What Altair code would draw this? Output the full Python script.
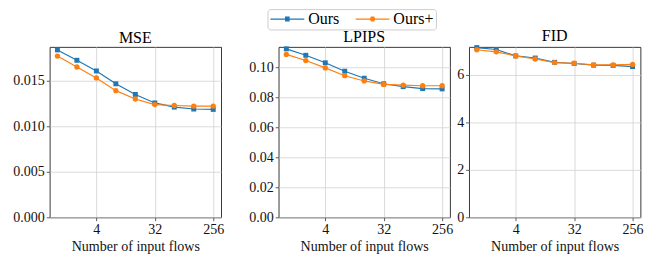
import altair as alt
import pandas as pd

# ---------------- data ----------------
flows = [1, 2, 4, 8, 16, 32, 64, 128, 256]
series_names = ["Ours", "Ours+"]
series_colors = ["#1f77b4", "#ff7f0e"]

mse_ours = [0.01837, 0.01723, 0.01606, 0.01465, 0.01348, 0.01255, 0.01209, 0.01188, 0.01184]
mse_plus = [0.01769, 0.01649, 0.01529, 0.01390, 0.01298, 0.01237, 0.01227, 0.01220, 0.01220]
lpips_ours = [0.1123, 0.1080, 0.1030, 0.0974, 0.0927, 0.0890, 0.0871, 0.0858, 0.0856]
lpips_plus = [0.1086, 0.1045, 0.0996, 0.0944, 0.0909, 0.0886, 0.0881, 0.0877, 0.0877]
fid_ours = [7.15, 7.07, 6.80, 6.71, 6.53, 6.48, 6.41, 6.40, 6.35]
fid_plus = [7.06, 6.97, 6.80, 6.67, 6.52, 6.49, 6.42, 6.42, 6.44]

x_ticks = [4, 32, 256]
mse_ticks = [0.0, 0.005, 0.010, 0.015]
lpips_ticks = [0.0, 0.02, 0.04, 0.06, 0.08, 0.10]
fid_ticks = [0, 2, 4, 6]

FONT = "Liberation Serif"
W, H = 177, 176

# legend handles: line with a marker in the middle (marker drawn by stacked strokes)
SQ_PATH = ("M-1,0H1"
           "M-0.137,-0.114H0.137M-0.137,-0.057H0.137M-0.137,0H0.137"
           "M-0.137,0.057H0.137M-0.137,0.114H0.137")
CI_PATH = ("M-1,0H1"
           "M-0.103,-0.114H0.103M-0.143,-0.057H0.143M-0.157,0H0.157"
           "M-0.143,0.057H0.143M-0.103,0.114H0.103")

legend = alt.Legend(
    title=None,
    orient="none",
    legendX=225,
    legendY=-39,
    direction="horizontal",
    labelFont=FONT,
    labelFontSize=16.5,
    labelColor="#000000",
    labelOffset=3,
    symbolSize=1225,
    symbolStrokeWidth=1.2,
    symbolOpacity=1,
    clipHeight=16,
    columnPadding=15,
    padding=2,
    strokeColor="#cccccc",
    fillColor="white",
    cornerRadius=3,
)


def panel(title, ours, plus, ymax, yticks, fmt):
    df = pd.DataFrame({
        "flows": flows * 2,
        "value": list(ours) + list(plus),
        "series": [series_names[0]] * len(flows) + [series_names[1]] * len(flows),
    })
    x = alt.X(
        "flows:Q",
        scale=alt.Scale(type="log", base=2, domain=[2 ** -0.4, 2 ** 8.4], nice=False),
        axis=alt.Axis(values=x_ticks, format="d", title="Number of input flows",
                      labelFont=FONT, titleFont=FONT),
    )
    y = alt.Y(
        "value:Q",
        scale=alt.Scale(domain=[0, ymax], nice=False, zero=True),
        axis=alt.Axis(values=yticks, format=fmt, title=None, labelFont=FONT),
    )
    color = alt.Color(
        "series:N",
        scale=alt.Scale(domain=series_names, range=series_colors),
        legend=legend,
    )
    shape = alt.Shape(
        "series:N",
        scale=alt.Scale(domain=series_names, range=[SQ_PATH, CI_PATH]),
        legend=legend,
    )
    layers = []
    for name, mshape in zip(series_names, ["square", "circle"]):
        base = alt.Chart(df).transform_filter(alt.datum.series == name)
        layers.append(base.mark_line(strokeWidth=1.2).encode(x=x, y=y, color=color))
        layers.append(
            base.mark_point(filled=True, shape=mshape, size=26 if mshape == "square" else 30, opacity=1)
            .encode(x=x, y=y, color=color)
        )
    # invisible layer that only carries the legend handles
    handles = (
        alt.Chart(df)
        .transform_filter(alt.datum.series == "none")
        .mark_point(filled=False, strokeWidth=1.2)
        .encode(x=x, y=y, color=color, shape=shape)
    )
    layers.append(handles)
    return alt.layer(*layers).properties(
        width=W,
        height=H,
        title=alt.Title(title, font=FONT, fontSize=16.5, fontWeight="normal",
                        color="#000000", offset=1, anchor="middle"),
    )


mse = panel("MSE", mse_ours, mse_plus, 0.0187, mse_ticks, ".3f")
lpips = panel("LPIPS", lpips_ours, lpips_plus, 0.1136, lpips_ticks, ".2f")
fid = panel("FID", fid_ours, fid_plus, 7.18, fid_ticks, "d")

spacer = (
    alt.Chart(pd.DataFrame({"a": [0]}))
    .mark_point(opacity=0)
    .properties(width=0, height=H, view=alt.ViewBackground(stroke="transparent"))
)

chart = (
    alt.hconcat(mse, spacer, lpips, fid, spacing=19.7, bounds="flush")
    .resolve_scale(color="shared", shape="shared", x="independent", y="independent")
    .resolve_legend(color="shared", shape="shared")
    .properties(padding={"left": 4, "top": -4, "right": 5, "bottom": 5})
    .configure(font=FONT)
    .configure_view(stroke="#333333", strokeWidth=1)
    .configure_legend(labelFont=FONT)
    .configure_axis(
        domain=False,
        tickColor="#333333",
        tickSize=3.5,
        tickWidth=0.8,
        labelFont=FONT,
        labelFontSize=14.5,
        labelColor="#111111",
        labelPadding=2,
        labelFlush=False,
        labelOverlap=False,
        grid=True,
        gridColor="#d0d0d0",
        gridWidth=0.8,
        titleFont=FONT,
        titleFontSize=14.5,
        titleFontWeight="normal",
        titleColor="#111111",
        titlePadding=4,
    )
)

chart.save("out.html", embed_options={"renderer": "svg", "actions": False})
